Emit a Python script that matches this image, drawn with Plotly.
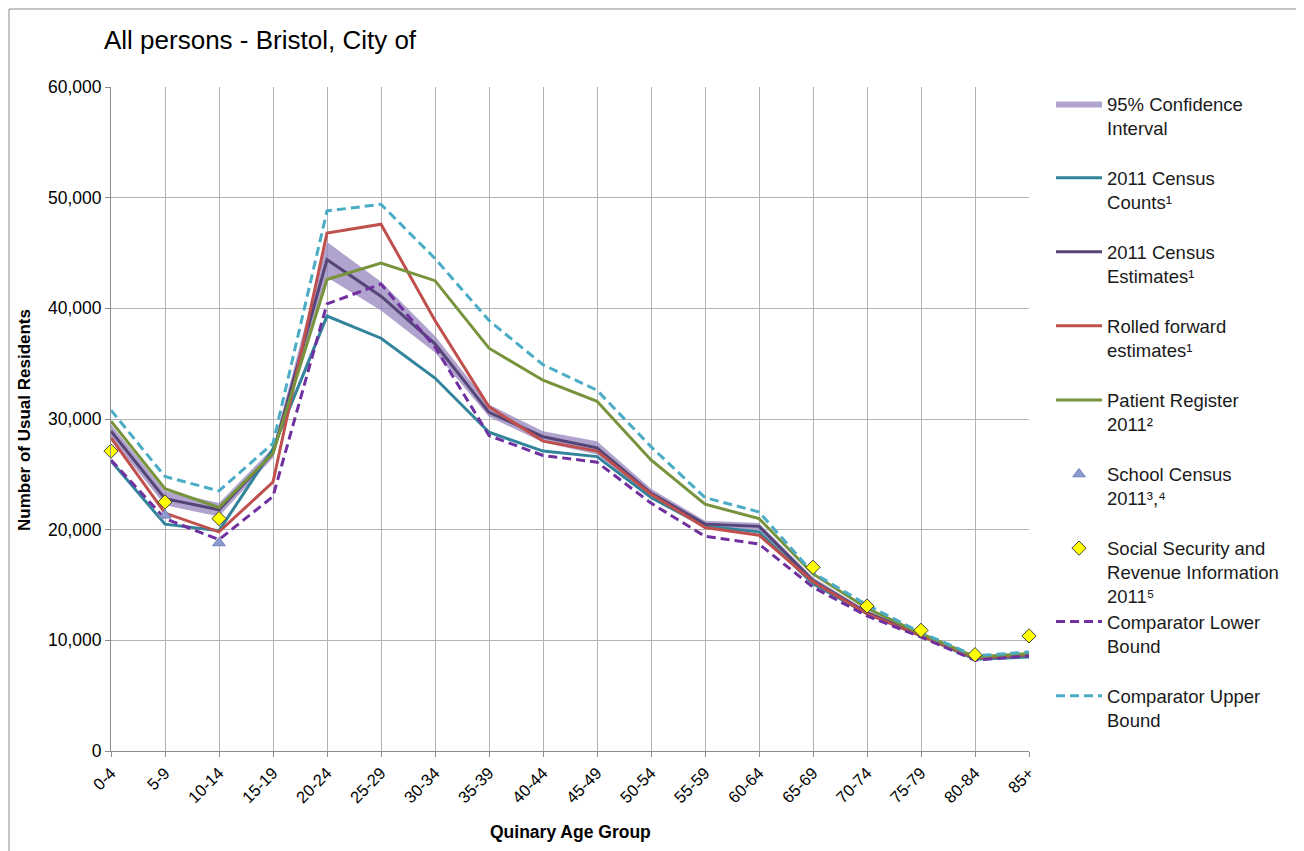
import plotly.graph_objects as go

ages = ["0-4", "5-9", "10-14", "15-19", "20-24", "25-29", "30-34", "35-39", "40-44",
        "45-49", "50-54", "55-59", "60-64", "65-69", "70-74", "75-79", "80-84", "85+"]

census_counts = [26200, 20500, 19900, 27300, 39300, 37300, 33700, 28800, 27100,
                 26600, 22900, 20300, 19800, 15100, 12400, 10400, 8300, 8500]
census_estimates = [28900, 22800, 21800, 26900, 44400, 41100, 36800, 30600, 28400,
                    27400, 23300, 20500, 20300, 15400, 12500, 10500, 8400, 8700]
ci_lower = [28300, 22200, 21200, 26500, 42800, 39800, 36000, 30200, 27900,
            26800, 23000, 20200, 20000, 15200, 12300, 10300, 8300, 8500]
ci_upper = [29500, 23500, 22400, 27400, 46000, 42400, 37500, 31300, 28900,
            28000, 23700, 20800, 20600, 15700, 12700, 10700, 8600, 8900]
rolled_forward = [28300, 21500, 19800, 24300, 46800, 47600, 38900, 31100, 28000,
                  27100, 23200, 20200, 19500, 15300, 12400, 10400, 8400, 8700]
patient_register = [29800, 23700, 22000, 26900, 42600, 44100, 42500, 36400, 33500,
                    31600, 26300, 22300, 21000, 16000, 12900, 10600, 8500, 8800]
school_census = [None, 21300, 18800, None, None, None, None, None, None,
                 None, None, None, None, None, None, None, None, None]
social_security = [27100, 22500, 21000, None, None, None, None, None, None,
                   None, None, None, None, 16600, 13100, 10900, 8700, 10400]
lower_bound = [26300, 21000, 19100, 23000, 40400, 42200, 36500, 28500, 26700,
               26100, 22400, 19400, 18700, 14800, 12200, 10300, 8200, 8600]
upper_bound = [30800, 24800, 23500, 27800, 48800, 49400, 44500, 38900, 34900,
               32600, 27500, 22900, 21600, 16100, 13200, 10700, 8600, 8950]

names = {
    "ci": "95% Confidence<br>Interval",
    "counts": "2011 Census<br>Counts\u00b9",
    "est": "2011 Census<br>Estimates\u00b9",
    "rolled": "Rolled forward<br>estimates\u00b9",
    "patient": "Patient Register<br>2011\u00b2",
    "school": "School Census<br>2011\u00b3,\u2074",
    "social": "Social Security and<br>Revenue Information<br>2011\u2075",
    "lower": "Comparator Lower<br>Bound",
    "upper": "Comparator Upper<br>Bound",
}

x = list(range(len(ages)))
FONT = "Arial, Liberation Sans, sans-serif"

# page is rendered with an 8px body margin; figure coords = page coords - 8
OFF = 8
PL, PR, PT, PB = 111 - OFF, 1029 - OFF, 87 - OFF, 751 - OFF
W, H = 1304, 851

fig = go.Figure()

# Confidence band
fig.add_trace(go.Scatter(x=x, y=ci_lower, mode="lines", line=dict(width=0, color="rgba(0,0,0,0)"),
                         showlegend=False, legendgroup="ci", hoverinfo="skip"))
fig.add_trace(go.Scatter(x=x, y=ci_upper, mode="lines", line=dict(width=0, color="rgba(0,0,0,0)"),
                         fill="tonexty", fillcolor="rgba(150,132,190,0.75)",
                         name=names["ci"], legendgroup="ci", legendrank=1))

fig.add_trace(go.Scatter(x=x, y=census_counts, mode="lines", line=dict(color="#31849b", width=3),
                         name=names["counts"], legendgroup="counts", legendrank=2))
fig.add_trace(go.Scatter(x=x, y=census_estimates, mode="lines", line=dict(color="#554577", width=3),
                         name=names["est"], legendgroup="est", legendrank=3))
fig.add_trace(go.Scatter(x=x, y=rolled_forward, mode="lines", line=dict(color="#c0504d", width=3),
                         name=names["rolled"], legendgroup="rolled", legendrank=4))
fig.add_trace(go.Scatter(x=x, y=patient_register, mode="lines", line=dict(color="#77933c", width=3),
                         name=names["patient"], legendgroup="patient", legendrank=5))
fig.add_trace(go.Scatter(x=x, y=lower_bound, mode="lines", line=dict(color="#7030a0", width=3, dash="9px,5px"),
                         name=names["lower"], legendgroup="lower", legendrank=8, legend="legend2"))
fig.add_trace(go.Scatter(x=x, y=upper_bound, mode="lines", line=dict(color="#4bacc6", width=3, dash="9px,5px"),
                         name=names["upper"], legendgroup="upper", legendrank=9, legend="legend2"))
fig.add_trace(go.Scatter(x=x, y=school_census, mode="markers", cliponaxis=False,
                         marker=dict(symbol="triangle-up", size=11, color="#8e9bd0",
                                     line=dict(color="#6f7fb8", width=1)),
                         name=names["school"], legendgroup="school", legendrank=6))
fig.add_trace(go.Scatter(x=x, y=social_security, mode="markers", cliponaxis=False,
                         marker=dict(symbol="diamond", size=11, color="#ffff00",
                                     line=dict(color="#404040", width=1)),
                         name=names["social"], legendgroup="social", legendrank=7))

legend_common = dict(font=dict(family=FONT, size=18.5, color="#1a1a1a"), bgcolor="rgba(0,0,0,0)",
                     xanchor="left", yanchor="top", valign="top", tracegroupgap=23,
                     itemwidth=46, traceorder="grouped", maxheight=800)

fig.update_layout(
    width=W, height=H,
    paper_bgcolor="white", plot_bgcolor="white",
    margin=dict(l=PL, r=W - PR, t=PT, b=H - PB, autoexpand=False),
    font=dict(family=FONT, color="#000000"),
    title=dict(text="All persons - Bristol, City of", x=(104 - OFF) / W, xref="container", xanchor="left",
               y=1 - (40 - OFF) / H, yref="container", yanchor="middle",
               font=dict(family=FONT, size=26, color="#000000")),
    showlegend=True,
    legend=dict(x=1.024, y=1.003, **legend_common),
    legend2=dict(x=1.024, y=(751 - 603) / 664, **legend_common),
    xaxis=dict(range=[0, 17], tickmode="array", tickvals=x, ticktext=ages, tickangle=-45,
               showgrid=True, gridcolor="#b3b3b3", gridwidth=1,
               showline=True, linecolor="#8c8c8c", linewidth=1,
               ticks="outside", ticklen=5, tickcolor="#8c8c8c",
               tickfont=dict(family=FONT, size=16.5, color="#000000"), zeroline=False),
    yaxis=dict(range=[0, 60000], dtick=10000, tickformat=",",
               showgrid=True, gridcolor="#b3b3b3", gridwidth=1,
               showline=True, linecolor="#8c8c8c", linewidth=1,
               ticks="outside", ticklen=5, tickcolor="#8c8c8c",
               tickfont=dict(family=FONT, size=17.5, color="#000000"), zeroline=False),
    annotations=[
        dict(text="<b>Number of Usual Residents</b>", xref="paper", yref="paper",
             x=(24 - 111) / 918, y=(751 - 420) / 664, textangle=-90, showarrow=False,
             xanchor="center", yanchor="middle", font=dict(family=FONT, size=17, color="#000000")),
        dict(text="<b>Quinary Age Group</b>", xref="paper", yref="paper",
             x=0.5, y=(751 - 832) / 664, showarrow=False,
             xanchor="center", yanchor="middle", font=dict(family=FONT, size=17.5, color="#000000")),
    ],
    shapes=[
        dict(type="rect", xref="paper", yref="paper",
             x0=(9 - 111) / 918, x1=(1300 - 111) / 918, y0=-0.2, y1=(751 - 9) / 664,
             line=dict(color="#8c8c8c", width=1), fillcolor="rgba(0,0,0,0)", layer="below"),
    ],
)

fig.write_html("out.html")
